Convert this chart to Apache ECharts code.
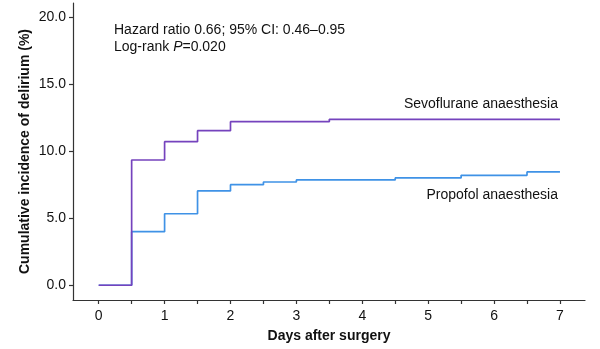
<!DOCTYPE html>
<html><head><meta charset="utf-8">
<script src="https://cdn.jsdelivr.net/npm/echarts@6/dist/echarts.min.js"></script>
<style>html,body{margin:0;padding:0;background:#fff}#c{width:600px;height:349px}</style>
</head><body><div id="c"></div>
<script>
const xTicks = [0, 1, 2, 3, 4, 5, 6, 7];
const xMinorTicks = [0, 0.5, 1, 1.5, 2, 2.5, 3, 3.5, 4, 4.5, 5, 5.5, 6, 6.5, 7];
const yTicks = [0, 5, 10, 15, 20];
const sevoDays = [0, 0.5, 1, 1.5, 2, 3.5, 7];
const sevoValues = [0, 9.35, 10.72, 11.54, 12.21, 12.39, 12.39];
const propDays = [0, 0.5, 1, 1.5, 2, 2.5, 3, 4.5, 5.5, 6.5, 7];
const propValues = [0, 4.0, 5.34, 7.04, 7.51, 7.71, 7.86, 8.01, 8.21, 8.46, 8.46];
const seriesNames = ['Sevoflurane anaesthesia', 'Propofol anaesthesia'];

const font = 'Liberation Sans, Arial, sans-serif';
const axisColor = '#333';
const chart = echarts.init(document.getElementById('c'));
chart.setOption({
  animation: false,
  grid: { left: 73, right: 15, top: 3, bottom: 49 },
  xAxis: {
    type: 'value', min: -0.39, max: 7.38,
    name: 'Days after surgery', nameLocation: 'middle', nameGap: 29,
    nameTextStyle: { fontFamily: font, fontSize: 14, fontWeight: 'bold', color: '#111' },
    axisLine: { show: true, onZero: false, lineStyle: { color: axisColor, width: 1.2 } },
    axisTick: { show: true, length: 4, customValues: xMinorTicks, lineStyle: { color: axisColor, width: 1.2 } },
    axisLabel: { customValues: xTicks, fontFamily: font, fontSize: 14, color: '#111', margin: 9 },
    splitLine: { show: false }
  },
  yAxis: {
    type: 'value', min: -1.1, max: 21.07,
    name: 'Cumulative incidence of delirium (%)', nameLocation: 'middle', nameGap: 41, nameRotate: 90,
    nameMoveOverlap: false,
    nameTextStyle: { fontFamily: font, fontSize: 14, fontWeight: 'bold', color: '#111' },
    axisLine: { show: true, onZero: false, lineStyle: { color: axisColor, width: 1.2 } },
    axisTick: { show: true, length: 4, customValues: yTicks, lineStyle: { color: axisColor, width: 1.2 } },
    axisLabel: { customValues: yTicks, fontFamily: font, fontSize: 14, color: '#111', margin: 7,
      formatter: v => v.toFixed(1) },
    splitLine: { show: false }
  },
  series: [
    {
      name: seriesNames[1], type: 'line', step: 'end', symbol: 'none', z: 2,
      data: propDays.map((d, i) => [d, propValues[i]]),
      lineStyle: { color: '#3f92e6', width: 1.7 }
    },
    {
      name: seriesNames[0], type: 'line', step: 'end', symbol: 'none', z: 3,
      data: sevoDays.map((d, i) => [d, sevoValues[i]]),
      lineStyle: { color: '#7543bd', width: 1.7 }
    }
  ],
  graphic: [
    { type: 'text', left: 114, top: 23, style: { text: 'Hazard ratio 0.66; 95% CI: 0.46\u20130.95', font: '14px ' + font, fill: '#111' } },
    { type: 'text', left: 114, top: 40, style: { text: '{a|Log-rank }{i|P}{a|=0.020}', font: '14px ' + font, fill: '#111',
      rich: { a: { fontFamily: font, fontSize: 14, fill: '#111' }, i: { fontFamily: font, fontSize: 14, fontStyle: 'italic', fill: '#111' } } } },
    { type: 'text', right: 42, top: 97, style: { text: seriesNames[0], font: '14px ' + font, fill: '#111', align: 'right' } },
    { type: 'text', right: 42, top: 188, style: { text: seriesNames[1], font: '14px ' + font, fill: '#111', align: 'right' } }
  ]
});
</script></body></html>
